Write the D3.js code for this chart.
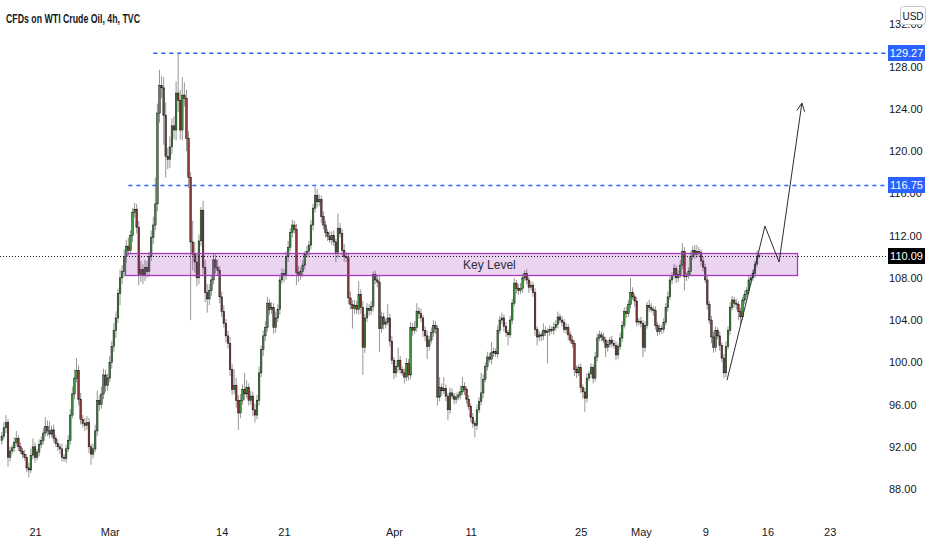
<!DOCTYPE html>
<html><head><meta charset="utf-8">
<script src="https://cdn.jsdelivr.net/npm/d3@7"></script>
<style>
html,body{margin:0;padding:0;background:#fff}
svg{display:block;font-family:"Liberation Sans",Arial,sans-serif}
</style></head><body>
<svg id="chart" width="932" height="550"></svg>
<script>
// WTI 4h candles. Bar index 0 = first bar of Feb 21, 6 bars per trading day.
const firstBar=-16, firstOpen=92.6;
const closes=[
93.0,93.8,94.3,91.0,91.6,91.9,92.4,92.8,92.0,91.6,
91.3,91.0,90.0,89.8,91.2,92.0,91.0,91.5,92.2,92.6,
93.3,93.9,93.5,93.2,93.6,92.8,92.3,92.0,91.8,91.0,
90.9,91.8,92.6,95.0,97.0,98.5,99.2,96.5,94.6,94.2,
94.0,94.3,92.0,91.3,91.8,93.5,96.4,96.0,97.0,98.8,
97.8,98.5,100.0,101.5,103.0,104.2,106.5,108.0,108.6,110.0,
111.0,110.6,112.0,114.2,114.5,112.8,108.3,108.8,108.2,109.0,
108.6,110.0,111.8,113.0,115.0,123.6,126.2,126.0,123.4,119.5,
119.2,120.4,122.4,122.0,125.5,124.8,122.0,125.3,125.0,121.2,
117.5,111.4,110.2,109.5,108.0,111.5,114.4,109.0,106.6,106.0,
106.8,107.8,109.7,109.0,108.7,106.2,104.8,103.7,102.5,101.8,
99.3,97.4,97.8,96.4,95.2,96.4,97.4,97.0,97.6,96.4,
96.8,95.5,95.0,96.4,99.0,101.2,102.5,103.3,105.6,105.0,
105.2,103.3,104.2,105.0,107.8,108.4,108.2,110.0,110.9,112.3,
113.0,112.6,108.5,108.2,108.6,109.2,110.2,110.5,111.1,113.0,
114.6,115.8,115.2,115.4,113.8,113.0,112.3,111.9,111.6,112.0,
111.4,110.4,112.7,112.2,110.6,110.0,109.9,106.1,105.5,105.1,
105.4,105.0,106.4,105.2,101.4,104.2,105.1,104.9,105.3,108.3,
107.8,107.6,103.2,104.3,103.6,103.8,104.2,102.0,100.2,99.0,
99.6,100.2,99.3,99.0,98.6,99.9,98.8,103.3,103.0,103.3,
104.8,104.6,104.2,103.0,102.5,101.5,102.1,102.8,103.5,103.2,
96.7,97.6,97.3,97.5,96.8,95.5,97.1,96.8,96.5,96.7,
96.9,97.2,97.7,97.4,96.5,95.8,94.8,94.2,94.0,95.5,
96.3,97.1,98.4,99.6,100.5,100.3,100.9,101.0,100.8,103.0,
104.0,104.2,103.4,102.8,102.6,104.0,105.6,107.5,107.0,106.8,
107.0,108.0,108.4,107.8,107.1,107.3,106.6,103.1,102.4,102.6,
102.5,103.0,102.8,102.9,103.1,103.0,103.3,103.6,104.3,104.0,
103.8,103.1,103.3,102.6,102.1,101.8,99.3,99.0,99.5,97.6,
97.2,96.6,98.5,98.9,99.5,98.5,100.5,102.3,102.6,102.4,
102.1,101.4,101.7,102.1,101.8,101.6,100.7,101.5,102.3,103.5,
104.8,104.6,105.5,106.6,106.2,105.8,103.8,103.9,103.7,101.4,
103.5,105.4,105.2,105.0,104.9,103.5,102.9,103.2,103.1,103.8,
105.2,106.2,107.8,108.2,108.9,108.0,108.3,109.2,110.5,108.1,
108.2,108.6,110.0,110.6,110.2,110.5,110.4,109.6,109.0,107.8,
105.5,104.0,102.4,101.4,103.0,102.5,101.6,100.4,99.0,101.5,
103.0,105.2,105.9,105.6,105.5,104.8,104.3,105.9,106.4,106.8,
107.8,108.0,108.4,109.3,110.0,110.09];
// upper / lower wick length above / below the body, in price units
const upWick=[
.4,.5,.7,.3,.4,.3,.5,.7,.3,.4,
.3,.4,.3,.5,.6,.8,.4,.3,.5,.4,
.5,.9,.6,.9,.4,.5,.3,.4,.3,.5,
.3,.4,.5,.6,.7,.8,1.2,.5,.6,.4,
.5,.6,.4,.3,.5,.6,.9,.5,.7,.6,
.5,.4,.6,.5,.7,.6,.5,.8,.6,.7,
.6,.8,.5,.4,.6,.5,.6,.8,.5,.7,
.6,.5,.7,.8,2.5,.9,1.5,.9,1.0,1.2,
.8,1.0,.7,.9,1.1,3.8,1.0,1.7,1.2,.8,
.7,.5,2.0,1.2,.8,.6,.3,.9,.7,.8,
.6,.5,.6,.5,.7,.4,.5,.6,.4,.5,
.6,.5,1.5,.7,.5,.6,.5,1.6,.7,.4,
.5,.4,.6,.5,.6,.4,.5,.6,.6,.4,
.5,.4,.6,.5,.4,.5,.4,.5,.6,.4,
.5,.4,.5,.6,.4,.5,.3,.5,.4,.5,
.4,.8,.6,.5,.4,.5,.4,.3,.5,.4,
.5,.3,1.4,.5,.4,.6,.4,.5,.6,.4,
.5,.4,1.3,.5,.6,.4,.5,.4,.5,.3,
.4,.5,.6,.5,.4,.3,1.3,.4,.5,.3,
.6,1.2,.4,.3,.4,.5,.4,.5,.4,.6,
.8,.4,.5,.3,.4,.5,.4,.5,.5,.4,
.3,1.0,.4,1.1,.4,.3,.5,.4,.3,.4,
.3,.6,.9,.4,.3,.4,.3,.4,.3,.5,
.4,1.9,.5,.4,.5,.4,1.0,.4,.3,.5,
.4,.5,.3,.4,.3,.4,.4,.5,.3,.4,
.5,.4,.3,.4,.3,.4,.3,.4,.3,.4,
.3,.7,.4,.3,.4,.3,.5,.4,.5,.3,
.4,.3,.4,.3,.3,.4,.3,.4,.3,.4,
.3,.4,.5,.3,.4,.3,.5,.4,.4,.3,
.4,.3,.4,.3,.4,.3,.4,.3,.5,.4,
.4,.5,.4,1.4,.5,.3,.4,.3,.4,.3,
.4,.3,.5,.4,.3,.4,.3,.4,.3,.4,
.4,.5,.4,.3,.4,.3,.4,.5,.8,.4,
.3,.4,.5,.4,.5,.6,.4,.3,.4,.3,
.4,.3,.4,.5,.4,.3,.4,.3,.4,.5,
.4,.5,.4,.3,.4,.3,.4,.3,.4,.3,
.4,.3,.4,.3,.6,.2];
const dnWick=[
.4,.3,.5,.9,.4,.3,.4,.3,.4,.3,
.4,.3,.4,.7,.3,.4,.5,.3,.4,.3,
.4,.3,.5,.4,.3,.4,.3,.4,.5,.4,
.3,.4,.3,.4,.3,.5,.4,.6,.5,.4,
.5,.4,.6,1.0,.4,.3,.5,.6,.4,.5,
.6,.5,.4,.6,.5,.7,.5,1.1,.6,.5,
.6,.5,.4,.6,.5,.6,1.0,.7,.8,.5,
.6,.5,.4,.6,.5,.7,.9,1.0,2.8,2.0,
.9,.8,.7,.9,1.0,1.1,.9,1.0,.8,1.2,
1.0,7.4,1.5,1.0,.8,.6,.5,.7,.9,1.3,
.6,.5,.4,.6,.5,.6,.5,.4,.6,.5,
.6,.5,.4,.7,1.6,.5,.4,.6,.4,.5,
.4,.6,.7,.4,.5,.4,.6,.5,.4,.5,
.4,.6,.5,.4,.5,.4,.6,.4,.5,.4,
.5,.4,1.2,.6,.4,.5,.4,.3,.5,.4,
.5,.4,.5,.4,.6,.4,.5,.4,.3,.5,
.4,.9,.5,.4,.6,.5,.4,.6,.5,1.9,
.5,.4,.5,.6,2.6,.5,.4,.5,.4,.5,
.4,.5,2.2,.4,.5,.4,.3,.5,.4,.6,
.4,.5,.4,.3,.6,.4,.5,.4,.5,.3,
.4,.5,.4,.6,.5,1.2,.4,.3,.4,.5,
.8,.4,.5,.3,.5,1.0,.4,.3,.5,.4,
.3,.4,.3,.5,.4,.3,.5,.4,1.1,.4,
.3,.4,.5,.3,.4,.3,.5,.4,.3,.4,
.3,.4,.5,.4,1.0,.3,.4,.3,.5,.4,
.3,.4,.3,.4,.5,.3,.4,.6,.8,.4,
.5,.4,.3,2.9,.4,.3,.4,.3,.4,.3,
.4,.3,.4,.5,.3,.4,.6,.5,.3,.5,
.6,1.3,.4,.3,.4,.5,.3,.4,.3,.4,
.3,.9,.4,.3,.4,.3,.5,.4,.3,.4,
.3,.4,.3,.4,.3,.5,.4,.3,.4,.9,
.4,.3,.4,.3,.5,.4,.4,.3,.4,.3,
.3,.4,.3,.4,.3,.5,.4,.3,.4,1.3,
.4,.3,.4,.3,.4,.3,.4,.5,.4,.3,
.5,.4,.6,.5,.4,.3,.5,.4,.5,.4,
.3,.4,.3,.4,.5,.8,.8,.3,.4,.3,
.3,.4,.3,.4,.3,.2];

const priceTicks=[88,92,96,100,104,108,112,116,120,124,128,132];
const dateTicks=[0,36,90,120,173,210,263,292,323,353,383];
const dateLabels=["21","Mar","14","21","Apr","11","25","May","9","16","23"];

const levelPrices=[129.27,116.75];   // blue dashed levels
const levelFrom=[57,45];            // bar where each starts
const lastPrice=110.09;
const zoneBars=[43.4,367.2], zonePrices=[110.35,108.27], zoneLabelBar=219;
const arrowBars=[333.5,351.8,358.6,369.6], arrowPrices=[98.3,112.9,109.5,124.55];

const svg=d3.select("#chart");
const plotR=888;
const x=d3.scaleLinear().domain([0,383]).range([35,829.7]);
const y=d3.scaleLinear().domain([88,132]).range([489,24.4]);
const bw=x(1)-x(0);
const crisp=v=>Math.round(v)+0.5;

const bars=closes.map((c,i)=>{
  const o=i?closes[i-1]:firstOpen;
  return{k:firstBar+i,o:o,c:c,h:Math.max(o,c)+upWick[i],l:Math.min(o,c)-dnWick[i]};
});

svg.append("rect").attr("width",932).attr("height",550).attr("fill","#fff");

// candles
const cg=svg.append("g");
cg.selectAll("line").data(bars).enter().append("line")
  .attr("x1",d=>x(d.k)).attr("x2",d=>x(d.k))
  .attr("y1",d=>y(d.h)).attr("y2",d=>y(d.l))
  .attr("stroke","#8a8a8a").attr("stroke-width",0.9);
cg.selectAll("rect").data(bars).enter().append("rect")
  .attr("x",d=>x(d.k)-bw*0.38).attr("width",bw*0.76)
  .attr("y",d=>y(Math.max(d.o,d.c)))
  .attr("height",d=>Math.max(0.8,Math.abs(y(d.o)-y(d.c))))
  .attr("fill",d=>d.c>=d.o?"#3f9a3f":"#8e3b3b")
  .attr("stroke","#111").attr("stroke-width",0.5);

// key level zone
const zg=svg.append("g");
const zy0=crisp(y(zonePrices[0])),zy1=crisp(y(zonePrices[1]));
zg.append("rect")
  .attr("x",crisp(x(zoneBars[0]))).attr("width",Math.round(x(zoneBars[1])-x(zoneBars[0])))
  .attr("y",zy0).attr("height",zy1-zy0)
  .attr("fill","rgba(156,39,176,0.2)").attr("stroke","#a83bbd").attr("stroke-width",1.3);
zg.append("text").attr("x",x(zoneLabelBar)).attr("y",(zy0+zy1)/2+4)
  .attr("text-anchor","middle").attr("font-size",12).attr("fill","#2a2e39").text("Key Level");

// horizontal levels
svg.append("g").selectAll("line").data(levelPrices).enter().append("line")
  .attr("x1",(d,i)=>x(levelFrom[i])).attr("x2",plotR)
  .attr("y1",d=>y(d)).attr("y2",d=>y(d))
  .attr("stroke","#2962ff").attr("stroke-width",1.5).attr("stroke-dasharray","4,4");
svg.append("line").attr("x1",0).attr("x2",plotR).attr("y1",crisp(y(lastPrice))).attr("y2",crisp(y(lastPrice)))
  .attr("stroke","#131722").attr("stroke-width",1).attr("stroke-dasharray","1,2");

// projected path arrow
const pts=arrowBars.map((b,i)=>[x(b),y(arrowPrices[i])]);
svg.append("path").attr("d",d3.line()(pts)).attr("fill","none").attr("stroke","#2a2e39").attr("stroke-width",1);
const p1=pts[pts.length-2],p2=pts[pts.length-1];
const ang=Math.atan2(p2[1]-p1[1],p2[0]-p1[0]);
[-0.45,0.45].forEach(a=>{
  svg.append("line").attr("x1",p2[0]).attr("y1",p2[1])
    .attr("x2",p2[0]-9*Math.cos(ang+a)).attr("y2",p2[1]-9*Math.sin(ang+a))
    .attr("stroke","#2a2e39").attr("stroke-width",1);
});

// price axis
const ya=svg.append("g").attr("transform","translate("+(plotR+1)+",0)")
  .call(d3.axisRight(y).tickValues(priceTicks).tickFormat(d3.format(".2f")).tickSize(0).tickPadding(0));
ya.select(".domain").remove();
ya.selectAll("text").attr("font-size",11).attr("fill","#131722").attr("font-family","Liberation Sans, Arial, sans-serif");

// price boxes
const boxes=[{v:levelPrices[0],bg:"#2962ff"},{v:levelPrices[1],bg:"#2962ff"},{v:lastPrice,bg:"#000"}];
const bg=svg.append("g").selectAll("g").data(boxes).enter().append("g");
bg.append("rect").attr("x",plotR).attr("width",37).attr("y",d=>Math.round(y(d.v))-8).attr("height",16).attr("fill",d=>d.bg);
bg.append("text").attr("x",plotR+18.5).attr("y",d=>Math.round(y(d.v))+4).attr("text-anchor","middle")
  .attr("font-size",11).attr("fill","#fff").text(d=>d.v.toFixed(2));

// time axis
const xa=svg.append("g").attr("transform","translate(0,528)")
  .call(d3.axisBottom(x).tickValues(dateTicks).tickFormat((d,i)=>dateLabels[i]).tickSize(0).tickPadding(0));
xa.select(".domain").remove();
xa.selectAll("text").attr("font-size",11).attr("fill","#131722").attr("font-family","Liberation Sans, Arial, sans-serif");

// USD badge
svg.append("rect").attr("x",900.5).attr("y",6.5).attr("width",25).attr("height",18).attr("rx",3)
  .attr("fill","#fff").attr("stroke","#c3c6ce");
svg.append("text").attr("x",913).attr("y",19.5).attr("text-anchor","middle").attr("font-size",10)
  .attr("fill","#131722").text("USD");

// title
svg.append("text").attr("x",6).attr("y",23).attr("font-size",12.5).attr("font-weight","bold")
  .attr("fill","#131722").attr("textLength",134).attr("lengthAdjust","spacingAndGlyphs")
  .text("CFDs on WTI Crude Oil, 4h, TVC");
</script>
</body></html>
